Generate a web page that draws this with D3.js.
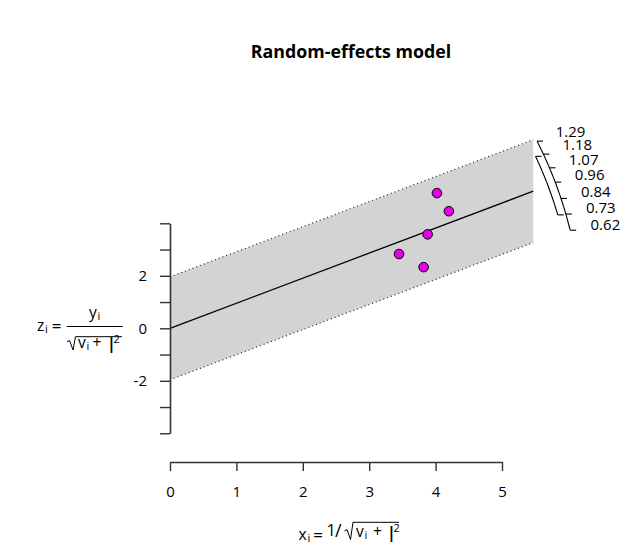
<!DOCTYPE html>
<html>
<head>
<meta charset="utf-8">
<script src="https://cdn.jsdelivr.net/npm/d3@7"></script>
<style>
  body { margin: 0; background: #fff; }
  text { font-family: "Open Sans", "Liberation Sans", sans-serif; fill: #000; }
</style>
</head>
<body>
<div id="chart"></div>
<script>
// data read from the radial (Galbraith) plot
var xi = [4.02, 4.20, 3.88, 3.45, 3.82];      // 1/sqrt(vi + tau^2)
var zi = [5.15, 4.46, 3.58, 2.83, 2.33];      // yi/sqrt(vi + tau^2)
var estimate = 0.955;
var ciBounds = [0.74, 1.19];
var arcTicks = [0.62, 0.73, 0.84, 0.96, 1.07, 1.18, 1.29];
var xTicks = [0, 1, 2, 3, 4, 5];
var yTicks = [-4, -3, -2, -1, 0, 1, 2, 3, 4];
var yTickLabels = [-2, 0, 2];
var xMax = 5.47;
var zCrit = 1.96;

var W = 641, H = 552;

var svg = d3.select("#chart")
    .append("svg")
    .attr("width", W)
    .attr("height", H);

var x = d3.scaleLinear().domain([0, 5]).range([170, 502]);
var y = d3.scaleLinear().domain([-4, 4]).range([433.3, 223.3]);

// title
svg.append("text")
    .attr("x", 351)
    .attr("y", 58)
    .attr("text-anchor", "middle")
    .style("font-size", "17.8px")
    .style("font-weight", "bold")
    .text("Random-effects model");

// shaded band  z = b*x +/- 1.96
var band = [
    [0, zCrit], [xMax, estimate * xMax + zCrit],
    [xMax, estimate * xMax - zCrit], [0, -zCrit]
];
svg.append("path")
    .datum(band)
    .attr("fill", "#d3d3d3")
    .attr("stroke", "none")
    .attr("d", d3.line().x(function(d) { return x(d[0]); }).y(function(d) { return y(d[1]); }));

[zCrit, -zCrit].forEach(function(off) {
    svg.append("line")
        .attr("x1", x(0)).attr("y1", y(off))
        .attr("x2", x(xMax)).attr("y2", y(estimate * xMax + off))
        .attr("stroke", "#222")
        .attr("stroke-width", 1.2)
        .style("stroke-dasharray", "1,3");
});

// regression line through origin
svg.append("line")
    .attr("x1", x(0)).attr("y1", y(0))
    .attr("x2", x(xMax)).attr("y2", y(estimate * xMax))
    .attr("stroke", "black")
    .attr("stroke-width", 1.3);

// points
svg.selectAll("circle.pt")
    .data(d3.range(xi.length))
    .enter()
    .append("circle")
    .attr("class", "pt")
    .attr("cx", function(i) { return x(xi[i]); })
    .attr("cy", function(i) { return y(zi[i]); })
    .attr("r", 4.8)
    .attr("fill", "#e600e6")
    .attr("stroke", "black")
    .attr("stroke-width", 1);

// x axis
var xAxis = d3.axisBottom(x)
    .tickValues(xTicks)
    .tickSize(9)
    .tickSizeOuter(0)
    .tickPadding(15)
    .tickFormat(function(d) { return String(d); });

var gx = svg.append("g")
    .attr("transform", "translate(0,462)")
    .call(xAxis);

// y axis
var yAxis = d3.axisLeft(y)
    .tickValues(yTicks)
    .tickSize(10)
    .tickSizeOuter(0)
    .tickPadding(13)
    .tickFormat(function(d) { return yTickLabels.indexOf(d) >= 0 ? String(d) : ""; });

var gy = svg.append("g")
    .attr("transform", "translate(170,0)")
    .call(yAxis);

[gx, gy].forEach(function(g) {
    g.select(".domain").attr("stroke", "#333").attr("stroke-width", 1.6);
    g.selectAll(".tick line").attr("stroke", "#333").attr("stroke-width", 1.4);
    g.selectAll(".tick text")
        .style("font-size", "15px")
        .style("font-family", "'Open Sans', sans-serif")
        .attr("fill", "#000");
});

// arc scale on the right (screen circle around origin)
var cx0 = x(0), cy0 = y(0);
var kx = x(1) - x(0), ky = y(0) - y(1);
function arcPt(b, r) {
    var th = Math.atan(b * ky / kx);
    return [cx0 + r * Math.cos(th), cy0 - r * Math.sin(th)];
}
var rArc = 412, rCi = 404, rLab = 433;

function arcPath(b0, b1, r) {
    var n = 40, pts = [];
    for (var k = 0; k <= n; k++) pts.push(arcPt(b0 + (b1 - b0) * k / n, r));
    return d3.line()(pts);
}

svg.append("path")
    .attr("d", arcPath(arcTicks[0], arcTicks[arcTicks.length - 1], rArc))
    .attr("fill", "none")
    .attr("stroke", "black")
    .attr("stroke-width", 1.1);

arcTicks.forEach(function(b) {
    var p = arcPt(b, rArc);
    svg.append("line")
        .attr("x1", p[0]).attr("y1", p[1])
        .attr("x2", p[0] + 6).attr("y2", p[1])
        .attr("stroke", "black")
        .attr("stroke-width", 1.1);
    var q = arcPt(b, rLab);
    svg.append("text")
        .attr("x", q[0])
        .attr("y", q[1])
        .attr("dy", "0.35em")
        .style("font-size", "15px")
        .text(b.toFixed(2));
});

// confidence interval arc
svg.append("path")
    .attr("d", arcPath(ciBounds[0], ciBounds[1], rCi))
    .attr("fill", "none")
    .attr("stroke", "black")
    .attr("stroke-width", 1.1);

ciBounds.forEach(function(b) {
    var p = arcPt(b, rCi);
    svg.append("line")
        .attr("x1", p[0]).attr("y1", p[1])
        .attr("x2", p[0] + 6).attr("y2", p[1])
        .attr("stroke", "black")
        .attr("stroke-width", 1.1);
});

// y label: z_i = y_i / sqrt(v_i + |^2)
var ylab = svg.append("g");
ylab.append("text").attr("x", 37).attr("y", 331).style("font-size", "15.5px").text("z");
ylab.append("text").attr("x", 45).attr("y", 333).style("font-size", "11px").text("i");
ylab.append("text").attr("x", 56.5).attr("y", 332).attr("text-anchor", "middle").style("font-size", "17px").text("=");
ylab.append("line").attr("x1", 66.7).attr("x2", 122.7).attr("y1", 326.5).attr("y2", 326.5)
    .attr("stroke", "black").attr("stroke-width", 1);
ylab.append("text").attr("x", 89).attr("y", 318).style("font-size", "15.5px").text("y");
ylab.append("text").attr("x", 97.5).attr("y", 320).style("font-size", "11px").text("i");
ylab.append("path")
    .attr("d", "M67,342 L69.5,340.5 L73,350 L75.5,336.7 L122,336.7")
    .attr("fill", "none").attr("stroke", "black").attr("stroke-width", 1);
ylab.append("text").attr("x", 78).attr("y", 348).style("font-size", "15.5px").text("v");
ylab.append("text").attr("x", 86.5).attr("y", 350).style("font-size", "11px").text("i");
ylab.append("text").attr("x", 97).attr("y", 348).attr("text-anchor", "middle").style("font-size", "15.5px").text("+");
ylab.append("text").attr("x", 107).attr("y", 348.5).style("font-size", "16px").style("font-weight", "bold").text("|");
ylab.append("text").attr("x", 113.5).attr("y", 342.5).style("font-size", "11px").text("2");

// x label: x_i = 1/sqrt(v_i + |^2)
var xlab = svg.append("g");
xlab.append("text").attr("x", 298.5).attr("y", 540).style("font-size", "15.5px").text("x");
xlab.append("text").attr("x", 307.5).attr("y", 542).style("font-size", "11px").text("i");
xlab.append("text").attr("x", 318).attr("y", 541).attr("text-anchor", "middle").style("font-size", "17px").text("=");
xlab.append("text").attr("x", 326.5).attr("y", 536).style("font-size", "16.5px").text("1");
xlab.append("text").attr("x", 335).attr("y", 537).style("font-size", "18px").text("/");
xlab.append("path")
    .attr("d", "M344.5,531 L347,529.5 L350.5,539.5 L353,522.3 L399,522.3")
    .attr("fill", "none").attr("stroke", "black").attr("stroke-width", 1);
xlab.append("text").attr("x", 356).attr("y", 537).style("font-size", "15.5px").text("v");
xlab.append("text").attr("x", 364.5).attr("y", 539).style("font-size", "11px").text("i");
xlab.append("text").attr("x", 377.5).attr("y", 537).attr("text-anchor", "middle").style("font-size", "15.5px").text("+");
xlab.append("text").attr("x", 387).attr("y", 537.5).style("font-size", "16px").style("font-weight", "bold").text("|");
xlab.append("text").attr("x", 393.5).attr("y", 532).style("font-size", "11px").text("2");
</script>
</body>
</html>
